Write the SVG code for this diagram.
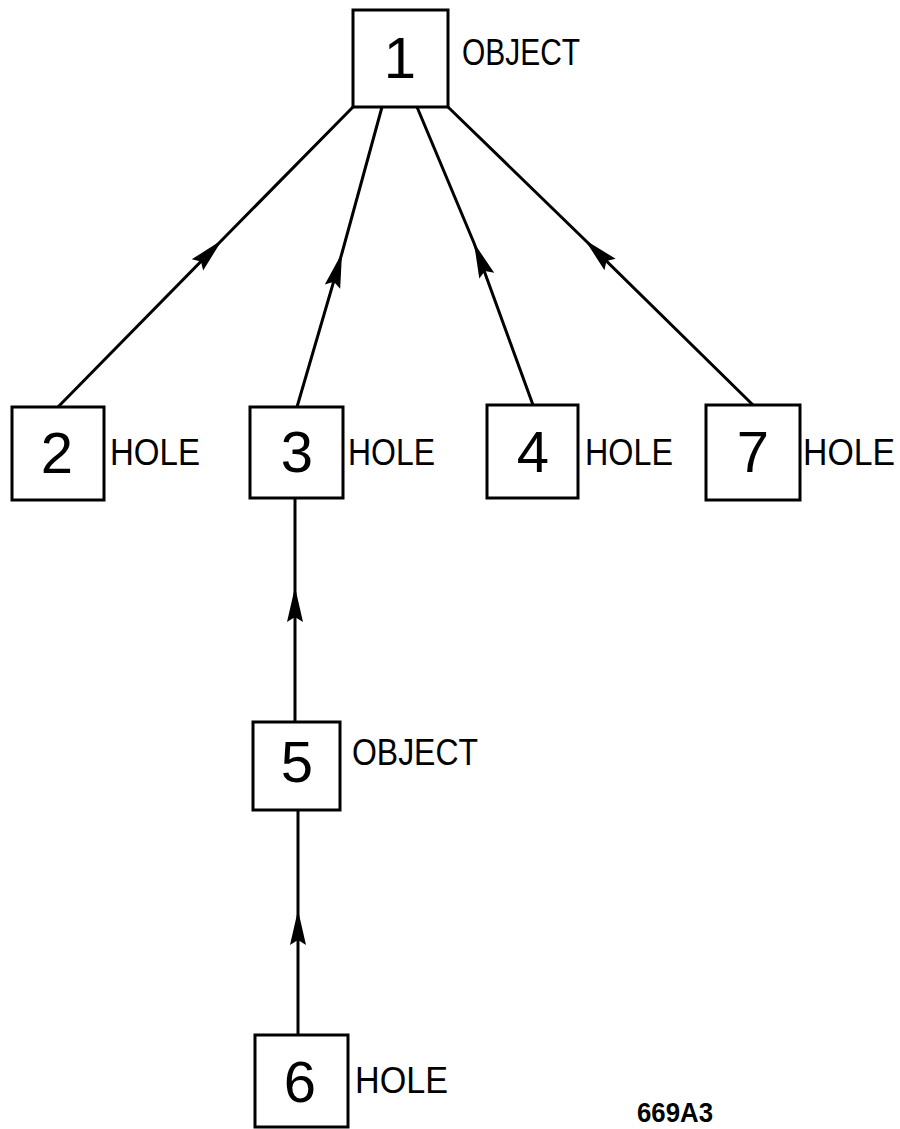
<svg xmlns="http://www.w3.org/2000/svg" width="900" height="1129" viewBox="0 0 900 1129">
<style>
.box{fill:#fff;stroke:#000;stroke-width:3}
.num{font-family:"Liberation Sans",Arial,sans-serif;font-size:58px;text-anchor:middle;fill:#000}
.lbl{font-family:"Liberation Sans",Arial,sans-serif;font-size:36px;fill:#000}
.edge{fill:none;stroke:#000;stroke-width:3;marker-mid:url(#ah)}
.code{font-family:"Liberation Sans",Arial,sans-serif;font-size:27px;font-weight:bold;fill:#000}
</style>
<defs>
<marker id="ah" markerUnits="userSpaceOnUse" markerWidth="38" markerHeight="20" viewBox="-36 -10 38 20" refX="0" refY="0" orient="auto">
<path d="M0,0 L-35,-8 L-30,0 L-35,8 Z" fill="#000"/>
</marker>
</defs>
<g id="connectors">
<path class="edge" d="M58,407 L222,240 L353,107"/>
<path class="edge" d="M297,407 L342,253 L382,107"/>
<path class="edge" d="M533,405 L474,243 L417,107"/>
<path class="edge" d="M753,405 L585,240 L448,107"/>
<path class="edge" d="M295,722 L295,587 L295,498"/>
<path class="edge" d="M298,1035 L298,910 L298,810"/>
</g>
<g id="node1">
<rect class="box" x="353" y="10" width="95" height="97"/>
<text class="num" x="400" y="78">1</text>
<text class="lbl" x="462" y="65" font-size="30" textLength="118" lengthAdjust="spacingAndGlyphs">OBJECT</text>
</g>
<g id="node2">
<rect class="box" x="12" y="407" width="92" height="93"/>
<text class="num" x="57" y="473">2</text>
<text class="lbl" x="110" y="465" textLength="90" lengthAdjust="spacingAndGlyphs">HOLE</text>
</g>
<g id="node3">
<rect class="box" x="250" y="407" width="93" height="91"/>
<text class="num" x="297" y="472">3</text>
<text class="lbl" x="348" y="465" textLength="87" lengthAdjust="spacingAndGlyphs">HOLE</text>
</g>
<g id="node4">
<rect class="box" x="487" y="405" width="91" height="93"/>
<text class="num" x="533" y="472">4</text>
<text class="lbl" x="585" y="465" textLength="88" lengthAdjust="spacingAndGlyphs">HOLE</text>
</g>
<g id="node7">
<rect class="box" x="706" y="405" width="94" height="95"/>
<text class="num" x="753" y="472">7</text>
<text class="lbl" x="803" y="465" textLength="92" lengthAdjust="spacingAndGlyphs">HOLE</text>
</g>
<g id="node5">
<rect class="box" x="253" y="722" width="87" height="88"/>
<text class="num" x="297" y="782">5</text>
<text class="lbl" x="352" y="765" font-size="31" textLength="126" lengthAdjust="spacingAndGlyphs">OBJECT</text>
</g>
<g id="node6">
<rect class="box" x="255" y="1035" width="93" height="92"/>
<text class="num" x="300" y="1102">6</text>
<text class="lbl" x="355" y="1093" textLength="93" lengthAdjust="spacingAndGlyphs">HOLE</text>
</g>
<text class="code" x="637" y="1122" textLength="76" lengthAdjust="spacingAndGlyphs">669A3</text>
</svg>
